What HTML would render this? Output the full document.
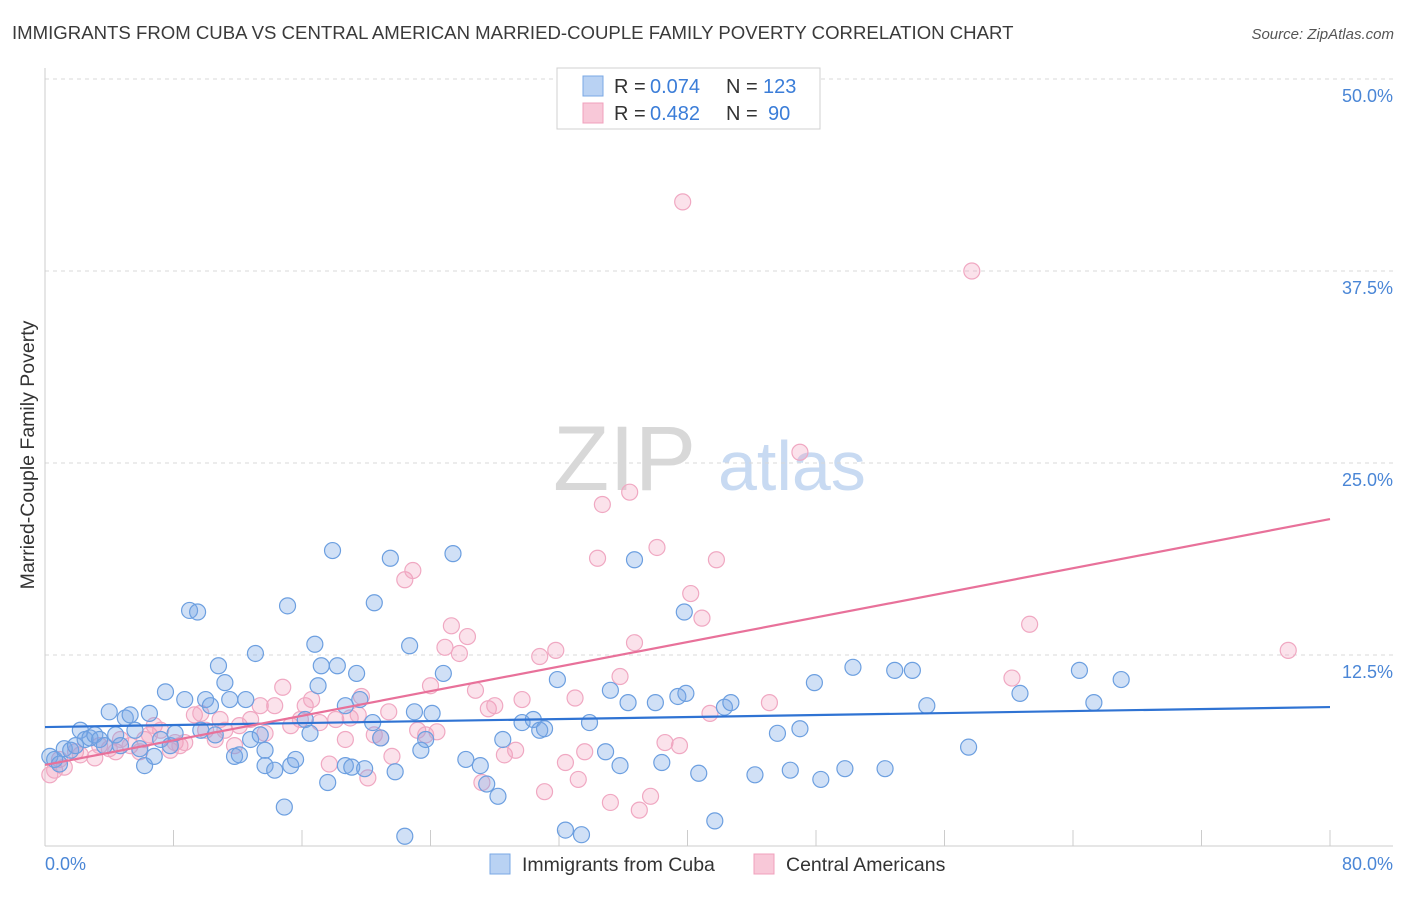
<!DOCTYPE html>
<html><head><meta charset="utf-8"><style>
body{margin:0;background:#fff;font-family:"Liberation Sans",sans-serif;}
svg text{font-family:"Liberation Sans",sans-serif;}
</style></head><body>
<svg id="chart" width="1406" height="892" viewBox="0 0 1406 892" xmlns="http://www.w3.org/2000/svg">
<text x="12" y="39" font-size="18.6" fill="#3a3a3a">IMMIGRANTS FROM CUBA VS CENTRAL AMERICAN MARRIED-COUPLE FAMILY POVERTY CORRELATION CHART</text>
<text x="1394" y="39" font-size="15" fill="#555" font-style="italic" text-anchor="end">Source: ZipAtlas.com</text>
<g>
<text x="553" y="490" font-size="92" font-family="Liberation Serif,serif" fill="#d8d8d8">ZIP</text>
<text x="718" y="490" font-size="70" fill="#c8daf2">atlas</text>
</g>
<g id="grid"></g>
<g id="axes"></g>
<text transform="translate(34,455) rotate(-90)" font-size="19.5" fill="#333" text-anchor="middle">Married-Couple Family Poverty</text>
<g id="pts"></g>
<g id="lines"></g>
<g>
<rect x="557" y="68" width="263" height="61" fill="#fff" stroke="#d0d0d0"/>
<rect x="583" y="76" width="20" height="20" fill="#b9d2f3" stroke="#7aa8e4"/>
<rect x="583" y="103" width="20" height="20" fill="#f8c8d8" stroke="#f0a0bc"/>
<text x="614" y="93" font-size="20" fill="#333">R =</text>
<text x="650" y="93" font-size="20" fill="#3b7dd8">0.074</text>
<text x="726" y="93" font-size="20" fill="#333">N =</text>
<text x="763" y="93" font-size="20" fill="#3b7dd8">123</text>
<text x="614" y="120" font-size="20" fill="#333">R =</text>
<text x="650" y="120" font-size="20" fill="#3b7dd8">0.482</text>
<text x="726" y="120" font-size="20" fill="#333">N =</text>
<text x="768" y="120" font-size="20" fill="#3b7dd8">90</text>
</g>
<g>
<rect x="490" y="854" width="20" height="20" fill="#b9d2f3" stroke="#7aa8e4"/>
<text x="522" y="871" font-size="19.5" fill="#333">Immigrants from Cuba</text>
<rect x="754" y="854" width="20" height="20" fill="#f8c8d8" stroke="#f0a0bc"/>
<text x="786" y="871" font-size="19.5" fill="#333">Central Americans</text>
</g>
</svg>
<script>
const yTicks=[12.5,25,37.5,50];
const yTickLabels=["12.5%","25.0%","37.5%","50.0%"];
const xTicks=[0,8,16,24,32,40,48,56,64,72,80];
const xTickLabels=["0.0%","80.0%"];
const cubaX=[0.3,0.6,0.9,1.2,1.6,1.9,2.2,2.5,2.8,3.1,3.4,3.7,4.0,4.4,4.7,5.0,5.3,5.6,5.9,6.2,6.5,6.8,7.2,7.5,7.8,8.1,8.7,9.0,9.5,9.7,10.0,10.3,10.6,10.8,11.2,11.5,11.8,12.1,12.5,12.8,13.1,13.4,13.7,13.7,14.3,14.9,15.1,15.3,15.6,16.2,16.5,16.8,17.0,17.2,17.6,17.9,18.2,18.7,18.7,19.1,19.4,19.6,19.9,20.4,20.5,20.9,21.5,21.8,22.4,22.7,23.0,23.4,23.7,24.1,24.8,25.4,26.2,27.1,27.5,28.2,28.5,29.7,30.4,30.8,31.1,31.9,32.4,33.4,33.9,34.9,35.2,35.8,36.3,36.7,38.0,38.4,39.4,39.8,39.9,40.7,41.7,42.3,42.7,44.2,45.6,46.4,47.0,47.9,48.3,49.8,50.3,52.3,52.9,54.0,54.9,57.5,60.7,64.4,65.3,67.0];
const cubaY=[5.9,5.7,5.4,6.4,6.3,6.6,7.6,7.0,7.1,7.3,7.0,6.6,8.8,7.3,6.6,8.4,8.6,7.6,6.4,5.3,8.7,5.9,7.0,10.1,6.6,7.4,9.6,15.4,15.3,7.6,9.6,9.2,7.3,11.8,10.7,9.6,5.9,6.0,9.6,7.0,12.6,7.3,6.3,5.3,5.0,2.6,15.7,5.3,5.7,8.3,7.4,13.2,10.5,11.8,4.2,19.3,11.8,9.2,5.3,5.2,11.3,9.6,5.1,8.1,15.9,7.1,18.8,4.9,0.7,13.1,8.8,6.3,7.0,8.7,11.3,19.1,5.7,5.3,4.1,3.3,7.0,8.1,8.3,7.6,7.7,10.9,1.1,0.8,8.1,6.2,10.2,5.3,9.4,18.7,9.4,5.5,9.8,15.3,10.0,4.8,1.7,9.1,9.4,4.7,7.4,5.0,7.7,10.7,4.4,5.1,11.7,5.1,11.5,11.5,9.2,6.5,10.0,11.5,9.4,10.9];
const centralX=[0.3,0.6,0.9,1.2,1.9,2.2,3.1,3.4,4.0,4.4,4.7,5.3,5.9,6.2,6.5,6.8,7.2,7.8,8.1,8.4,8.7,9.3,9.7,10.0,10.6,10.9,11.2,11.8,12.1,12.8,13.4,13.7,14.3,14.8,15.3,15.9,16.2,16.6,17.1,17.7,18.1,18.7,19.0,19.5,19.7,20.1,20.5,20.9,21.4,21.6,22.4,22.9,23.2,23.7,24.0,24.4,24.9,25.3,25.8,26.3,26.8,27.2,27.6,28.0,28.6,29.3,29.7,30.8,31.1,31.8,32.4,33.0,33.2,33.6,34.4,34.7,35.2,35.8,36.4,36.7,37.0,37.7,38.1,38.6,39.5,39.7,40.2,40.9,41.4,41.8,45.1,47.0,57.7,60.2,61.3,77.4];
const centralY=[4.7,5.0,5.7,5.2,6.2,6.0,5.8,6.6,6.4,6.2,7.0,6.6,6.2,7.0,7.3,7.9,7.6,6.3,6.8,6.6,6.8,8.6,8.7,7.6,7.0,8.3,7.6,6.6,7.9,8.3,9.2,7.4,9.2,10.4,7.9,8.3,9.2,9.6,8.1,5.4,8.3,7.0,8.4,8.6,9.8,4.5,7.3,7.1,8.8,5.9,17.4,18.0,7.6,7.3,10.5,7.5,13.0,14.4,12.6,13.7,10.2,4.2,9.0,9.2,6.0,6.3,9.6,12.4,3.6,12.8,5.5,9.7,4.4,6.2,18.8,22.3,2.9,11.1,23.1,13.3,2.4,3.3,19.5,6.8,6.6,42.0,16.5,14.9,8.7,18.7,9.4,25.7,37.5,11.0,14.5,12.8];
const trendX=[0,80];
const cubaTrend=[7.81,9.11];
const centralTrend=[5.34,21.35];
const NS="http://www.w3.org/2000/svg";
const xs=v=>45+v*(1330-45)/80;
const ys=v=>847-v*(847-463)/25;
function mk(tag,attrs,parent){const e=document.createElementNS(NS,tag);for(const k in attrs)e.setAttribute(k,attrs[k]);parent.appendChild(e);return e;}
const grid=document.getElementById('grid'),axes=document.getElementById('axes');
yTicks.forEach((t,i)=>{
  const l=mk('line',{x1:45,x2:1393,y1:ys(t),y2:ys(t),stroke:'#d8d8d8','stroke-dasharray':'4,4'},grid);
  
  
  const tx=mk('text',{x:1393,y:ys(t)+23,'font-size':18,fill:'#4a86d6','text-anchor':'end'},axes);
  tx.textContent=yTickLabels[i];
  
  
});
const ax=mk('line',{x1:45,x2:1393,y1:846,y2:846,stroke:'#ccc'},axes);


const ay=mk('line',{x1:45,x2:45,y1:68,y2:846,stroke:'#ccc'},axes);


xTicks.forEach(t=>{
  const l=mk('line',{x1:xs(t),x2:xs(t),y1:830,y2:846,stroke:'#ccc'},axes);
  
  
});
const xl0=mk('text',{x:45,y:870,'font-size':18,fill:'#4a86d6'},axes);xl0.textContent=xTickLabels[0];


const xl1=mk('text',{x:1393,y:870,'font-size':18,fill:'#4a86d6','text-anchor':'end'},axes);xl1.textContent=xTickLabels[1];


const pts=document.getElementById('pts');
centralX.forEach((x,i)=>{
  const c=mk('circle',{cx:xs(x),cy:ys(centralY[i]),r:8,fill:'rgba(242,160,190,0.3)',stroke:'#f0a8c2','stroke-width':1.2},pts);
  
  
});
cubaX.forEach((x,i)=>{
  const c=mk('circle',{cx:xs(x),cy:ys(cubaY[i]),r:8,fill:'rgba(120,165,230,0.35)',stroke:'#6c9fe0','stroke-width':1.2},pts);
  
  
});
const lines=document.getElementById('lines');
const lb=mk('line',{x1:xs(trendX[0]),x2:xs(trendX[1]),y1:ys(cubaTrend[0]),y2:ys(cubaTrend[1]),stroke:'#2f73d3','stroke-width':2.2},lines);


const lp=mk('line',{x1:xs(trendX[0]),x2:xs(trendX[1]),y1:ys(centralTrend[0]),y2:ys(centralTrend[1]),stroke:'#e8719a','stroke-width':2.2},lines);


</script>
</body></html>
